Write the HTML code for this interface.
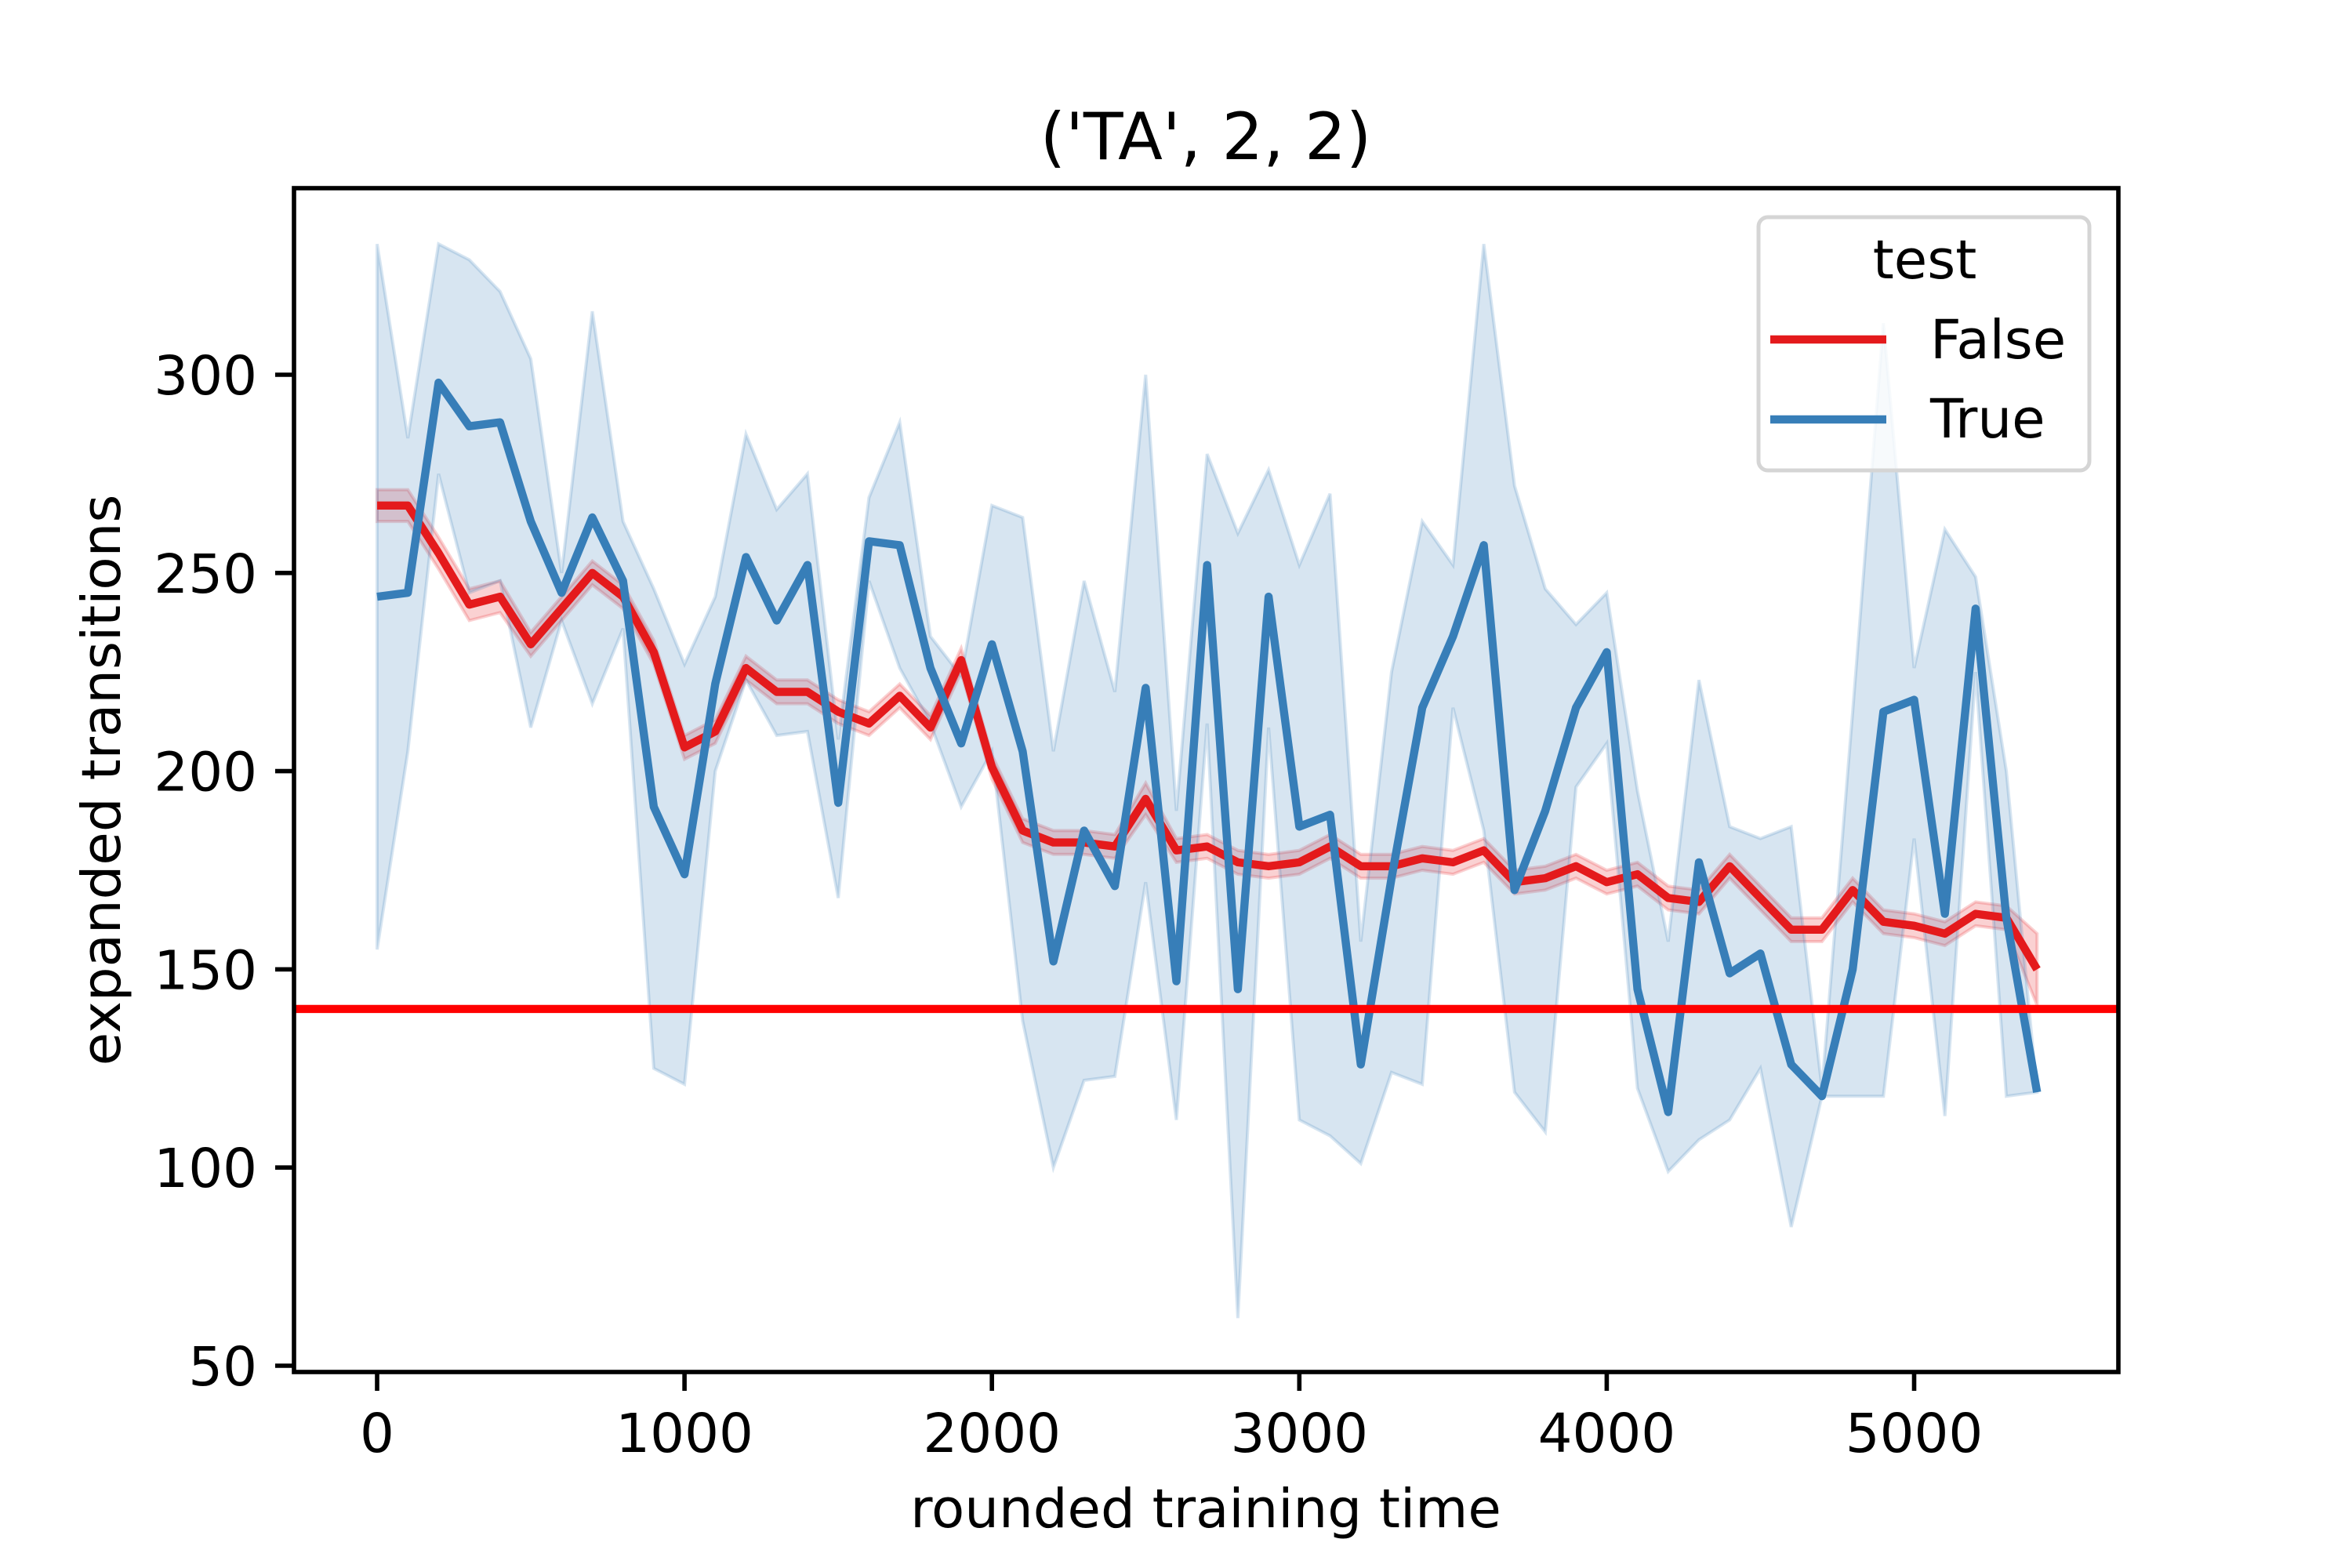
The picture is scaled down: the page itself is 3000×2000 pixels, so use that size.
<!DOCTYPE html>
<html><head><meta charset="utf-8"><style>
html,body{margin:0;padding:0;background:#fff;}
svg{display:block;font-family:"DejaVu Sans","Liberation Sans",sans-serif;}
</style></head><body>
<svg id="chart" width="3000" height="2000" viewBox="0 0 3000 2000">
<rect x="0" y="0" width="3000" height="2000" fill="#fff"/>
<text x="1538" y="203" font-size="83" text-anchor="middle">('TA', 2, 2)</text>
<g id="plot"></g>
<text x="1538" y="1948" font-size="69" text-anchor="middle">rounded training time</text>
<text x="0" y="0" font-size="69" text-anchor="middle" transform="translate(153,995) rotate(-90)">expanded transitions</text>
<g>
<rect x="2243" y="277" width="422" height="323" rx="12" fill="#fff" fill-opacity="0.8" stroke="#d5d5d5" stroke-width="5"/>
<text x="2455" y="355" font-size="69" text-anchor="middle">test</text>
<line x1="2258" y1="433" x2="2406" y2="433" stroke="#e41a1c" stroke-width="10.4"/>
<text x="2462" y="457" font-size="69">False</text>
<line x1="2258" y1="535" x2="2406" y2="535" stroke="#377eb8" stroke-width="10.4"/>
<text x="2462" y="558" font-size="69">True</text>
</g>
</svg>
<script>
const times = [0,100,200,300,400,500,600,700,800,900,1000,1100,1200,1300,1400,1500,1600,1700,1800,1900,2000,2100,2200,2300,2400,2500,2600,2700,2800,2900,3000,3100,3200,3300,3400,3500,3600,3700,3800,3900,4000,4100,4200,4300,4400,4500,4600,4700,4800,4900,5000,5100,5200,5300,5400];
const falseMean = [267,267,255,242,244,232,241,250,244,230,206,210,226,220,220,215,212,219,211,228,201,185,182,182,181,193,180,181,177,176,177,181,176,176,178,177,180,172,173,176,172,174,168,167,176,168,160,160,170,162,161,159,164,163,150];
const falseBand = [4,4,4,4,4,3,3,3,3,3,3,3,3,3,3,3,3,3,3,3,3,3,3,3,3,4,3,3,3,3,3,3,3,3,3,3,3,3,3,3,3,3,3,3,3,3,3,3,3,3,3,3,3,3,9];
const trueMean = [244,245,298,287,288,263,245,264,248,191,174,222,254,238,252,192,258,257,226,207,232,205,152,185,171,221,147,252,145,244,186,189,126,173,216,234,257,170,190,216,230,145,114,177,149,154,126,118,150,215,218,164,241,163,119];
const trueUpper = [333,284,333,329,321,304,250,316,263,246,227,244,285,266,275,208,269,288,234,224,267,264,205,248,220,300,190,280,260,276,252,270,157,225,263,252,333,272,246,237,245,195,157,223,186,183,186,120,215,313,226,261,249,200,119];
const trueLower = [155,205,275,245,248,211,238,217,236,125,121,200,223,209,210,168,248,226,212,191,205,137,100,122,123,172,112,212,62,211,112,108,101,124,121,216,185,119,109,196,207,120,99,107,112,125,85,118,118,118,183,113,225,118,119];
const refLine = 140;
const xTicks = [0,1000,2000,3000,4000,5000];
const yTicks = [50,100,150,200,250,300];

const NS = "http://www.w3.org/2000/svg";
const L = 375, R = 2702, T = 240, B = 1750;
function X(v){ return 481 + v * 0.3921; }
function Y(v){ return 1742 - (v - 50) * 5.056; }
const g = document.getElementById('plot');
function mk(tag, attrs){ const e = document.createElementNS(NS, tag); for (const k in attrs) e.setAttribute(k, attrs[k]); g.appendChild(e); return e; }
function pts(xs, ys){ return xs.map((x,i)=>X(x).toFixed(1)+','+Y(ys[i]).toFixed(1)).join(' '); }
function bandPts(up, lo){ return pts(times, up) + ' ' + pts(times.slice().reverse(), lo.slice().reverse()); }

const cp = mk('clipPath', {id:'clip'});
const cr = document.createElementNS(NS,'rect');
cr.setAttribute('x',L); cr.setAttribute('y',T); cr.setAttribute('width',R-L); cr.setAttribute('height',B-T);
cp.appendChild(cr);

const fUp = falseMean.map((m,i)=>m+falseBand[i]);
const fLo = falseMean.map((m,i)=>m-falseBand[i]);
let e;
e = mk('polygon', {points: bandPts(fUp, fLo), fill:'#e41a1c', 'fill-opacity':0.2, stroke:'#e41a1c', 'stroke-opacity':0.2, 'stroke-width':4, 'clip-path':'url(#clip)'});


e = mk('polygon', {points: bandPts(trueUpper, trueLower), fill:'#377eb8', 'fill-opacity':0.2, stroke:'#377eb8', 'stroke-opacity':0.2, 'stroke-width':4, 'clip-path':'url(#clip)'});


e = mk('polyline', {points: pts(times, falseMean), fill:'none', stroke:'#e41a1c', 'stroke-width':10.4, 'stroke-linejoin':'round'});


e = mk('polyline', {points: pts(times, trueMean), fill:'none', stroke:'#377eb8', 'stroke-width':10.4, 'stroke-linejoin':'round'});


e = mk('line', {x1:L, x2:R, y1:Y(refLine), y2:Y(refLine), stroke:'#ff0000', 'stroke-width':10.4});



xTicks.forEach(v=>{
  const t = mk('line', {x1:X(v), x2:X(v), y1:B, y2:B+24, stroke:'#000', 'stroke-width':5.6});
  
  
  const s = mk('text', {x:X(v), y:1852, 'font-size':69, 'text-anchor':'middle'});
  s.textContent = v;
  
  
});
yTicks.forEach(v=>{
  const t = mk('line', {x1:L-24, x2:L, y1:Y(v), y2:Y(v), stroke:'#000', 'stroke-width':5.6});
  
  
  const s = mk('text', {x:328, y:Y(v)+25, 'font-size':69, 'text-anchor':'end'});
  s.textContent = v;
  
  
});
e = mk('rect', {x:L, y:T, width:R-L, height:B-T, fill:'none', stroke:'#000', 'stroke-width':5.6});


</script>
</body></html>
